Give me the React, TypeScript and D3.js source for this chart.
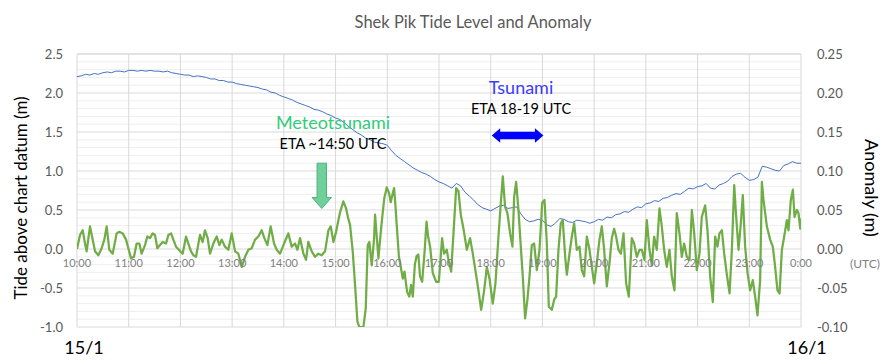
import React from 'react';
import * as d3 from 'd3';

// ---------- data ----------
const hourLabels = ['10:00','11:00','12:00','13:00','14:00','15:00','16:00','17:00','18:00','19:00','20:00','21:00','22:00','23:00','0:00'];
const leftTicks = [-1.0, -0.5, 0.0, 0.5, 1.0, 1.5, 2.0, 2.5];
const rightTicks = [-0.10, -0.05, 0.00, 0.05, 0.10, 0.15, 0.20, 0.25];

// Tide level (m above chart datum), every 5 minutes from 10:00 (15/1) to 0:00 (16/1)
const tideStepMinutes = 5;
const tideLevel = [
  2.21,2.22,2.24,2.23,2.25,2.24,2.26,2.27,2.26,2.28,2.28,2.27,
  2.29,2.29,2.28,2.29,2.28,2.29,2.28,2.28,2.27,2.28,2.26,2.25,
  2.24,2.23,2.23,2.21,2.22,2.21,2.20,2.18,2.18,2.16,2.16,2.14,
  2.14,2.12,2.11,2.10,2.09,2.08,2.07,2.05,2.04,2.01,2.00,1.97,
  1.95,1.93,1.91,1.88,1.86,1.84,1.82,1.79,1.78,1.76,1.73,1.71,
  1.68,1.66,1.62,1.57,1.53,1.49,1.46,1.42,1.40,1.37,1.36,1.35,
  1.33,1.26,1.20,1.16,1.12,1.08,1.04,1.01,0.98,0.96,0.93,0.89,
  0.86,0.84,0.81,0.78,0.84,0.81,0.73,0.68,0.63,0.57,0.53,0.51,
  0.49,0.52,0.55,0.56,0.52,0.53,0.54,0.45,0.38,0.35,0.36,0.38,
  0.37,0.31,0.29,0.33,0.39,0.38,0.35,0.34,0.37,0.36,0.35,0.33,
  0.35,0.38,0.37,0.41,0.40,0.44,0.45,0.48,0.47,0.51,0.54,0.53,
  0.58,0.59,0.62,0.61,0.65,0.66,0.69,0.71,0.70,0.74,0.78,0.77,
  0.80,0.81,0.84,0.78,0.77,0.82,0.84,0.87,0.93,0.96,0.97,0.92,
  0.88,0.89,0.92,1.06,1.05,1.03,1.01,1.00,1.07,1.09,1.12,1.10,
  1.10
];

// Anomaly (m): [minutes after 10:00, value]
const anomaly10to12: [number, number][] = [
  [0,0.0],[3.5,0.018],[6.6,0.024],[9.3,0.007],[11.2,-0.003],[15.1,0.029],[17.8,0.014],[20.9,-0.003],
  [24.8,-0.008],[28.6,0.001],[31.7,0.012],[34.4,0.029],[37.5,-0.001],[41.4,-0.006],[46,0.02],[49.1,0.022],
  [53,0.02],[56.9,0.012],[60,-0.001],[62.7,-0.012],[66.1,-0.01],[69.2,0.007],[72.3,0.007],[75,-0.006],
  [78.9,0.005],[81.6,0.016],[84.7,0.014],[87.8,0.02],[90.5,0.018],[93.2,0.001],[96.3,0.005],[99.4,0.009],
  [103.3,0.007],[106,0.018],[109.1,0.02],[111.8,0.012],[114.9,0.003]
];
const anomaly12to15: [number, number][] = [
  [119.9,-0.003],[122.6,-0.006],[126.5,0.016],[129.2,0.007],[132.3,-0.003],[135,-0.008],[138.1,-0.01],
  [142.7,0.018],[145.8,0.009],[148.5,0.024],[151.6,0.014],[154.3,-0.006],[158.2,0.007],[162.1,0.016],
  [165.2,0.005],[167.9,0.012],[171.7,0.003],[175.6,-0.001],[179.5,0.02],[183.4,-0.003],[187.2,-0.006],
  [191.1,-0.023],[195,-0.01],[198.8,-0.001],[202.7,0.001],[206.6,0.012],[210.4,0.016],[214.3,0.024],
  [217.4,0.014],[220.9,0.005],[224.7,0.029],[228.6,0.007],[231.7,-0.001],[235.6,-0.006],[240.2,0.007],
  [245.2,0.02],[249.1,0.003],[253,0.007],[255.7,-0.001],[258.8,0.014],[262.7,-0.006],[265.7,-0.014],
  [268.4,0.009],[272.3,-0.003],[276.2,-0.01],[280,-0.006],[283.9,-0.008],[287.8,-0.003],[291.7,0.024],
  [294.4,0.029],[297.5,0.009],[300.6,0.022]
];
const anomaly15to17: [number, number][] = [
  [303.3,0.037],[305.2,0.047],[309,0.061],[312.2,0.052],[314.5,0.04],[316.8,0.031],[319.9,-0.003],
  [322.6,-0.046],[325.3,-0.093],[327.6,-0.1],[332.3,-0.1],[335,-0.076],[337.3,0.005],[339.2,0.009],
  [342,-0.021],[344.7,0.014],[345.8,0.044],[347.5,0.02],[349.7,-0.012],[353.6,0.035],[356.5,0.065],
  [359.4,0.079],[362,0.072],[364,0.06],[366,0.07],[367.9,0.078],[369.5,0.055],[371,0.03],[373.5,-0.01],
  [376,-0.025],[378,-0.038],[380,-0.029],[383,-0.055],[385.5,-0.061],[387.6,-0.046],[389.6,-0.061],
  [392,-0.02],[394,-0.009],[396,-0.007],[398,-0.035],[400.5,-0.042],[403.5,0.0],[405.5,0.035],[407.5,0.015]
];
const anomaly17to20: [number, number][] = [
  [409.7,0.003],[412.8,-0.031],[416.7,-0.042],[419.8,-0.042],[423.6,0.014],[425.9,-0.006],[429,-0.001],
  [431,-0.014],[434.1,-0.029],[436.8,0.02],[439.9,0.078],[442.6,0.074],[445.3,0.044],[448.4,0.026],
  [452.3,-0.001],[456.1,0.014],[459.2,-0.006],[461.9,-0.025],[465.8,-0.053],[468.9,-0.078],[472.4,-0.053],
  [475.5,-0.023],[478.6,-0.038],[482.4,-0.07],[485.5,-0.044],[489,0.016],[491.7,0.059],[494,0.093],
  [496.7,0.054],[499.4,0.046],[502.5,0.02],[505.2,0.003],[507.2,0.067],[509.5,0.086],[512.2,0.05],
  [514.9,0.003],[517.2,-0.035],[519.9,-0.089],[522.6,-0.065],[525,-0.035],[527.7,0.005],[530.4,0.007],
  [533.5,-0.027],[536.6,-0.001],[539.7,0.059],[542.4,0.063],[545.1,0.007],[547.4,-0.074],[550.9,-0.078],
  [553.6,-0.065],[555.9,-0.061],[558.6,-0.001],[561.3,0.033],[563.6,0.037],[566.4,-0.01],[568.3,-0.033],
  [571.4,-0.006],[574.1,0.016],[576.8,0.033],[579.9,-0.001],[583,0.003],[585.7,-0.027],[588.4,-0.035],
  [591.5,0.016],[594.6,-0.001],[597.3,-0.023]
];
const anomaly20to24: [number, number][] = [
  [600,-0.044],[603.1,-0.018],[606.2,0.012],[608.9,0.029],[611.6,-0.001],[614.7,-0.048],[617.8,-0.018],
  [620.5,0.014],[623.2,0.026],[625.5,0.016],[628.2,-0.001],[631,-0.006],[634.1,0.02],[637.1,-0.044],
  [640.2,-0.061],[643.7,0.014],[646.4,0.007],[649.5,-0.01],[652.6,-0.001],[655.3,-0.001],[658.4,-0.014],
  [661.1,0.037],[664.2,-0.001],[666.9,-0.021],[669.6,0.016],[672.7,-0.001],[675.8,0.052],[678.5,0.029],
  [681.2,-0.001],[684.3,-0.023],[687.4,-0.001],[690.1,-0.035],[693.2,-0.053],[695.9,0.046],[699,0.02],
  [701.7,-0.01],[704.4,0.007],[707.5,-0.01],[710.6,-0.014],[713.4,0.05],[716.1,0.02],[719.1,-0.027],
  [722.2,-0.006],[724.9,0.041],[728.8,0.056],[731.5,0.024],[734.6,-0.035],[737.7,-0.068],[740.4,0.016],
  [743.1,0.003],[745.4,0.02],[748.2,0.024],[750.9,-0.006],[754,-0.033],[757.1,-0.057],[759.8,-0.001],
  [762.5,0.082],[764.8,0.041],[767.5,-0.001],[770.2,0.033],[772.5,0.069],[775.2,0.003],[778,-0.031],
  [781,-0.053],[784.1,-0.04],[786.8,-0.061],[789.5,-0.085],[792.6,-0.04],[794.6,0.086],[796.5,0.063],
  [800.4,0.029],[804.2,0.012],[807.3,0.003],[810,-0.023],[812.7,-0.053],[815.1,-0.057],[817.8,-0.001],
  [820.5,0.016],[823.6,0.037],[825.5,0.024],[828.2,0.063],[830.6,0.076],[832.5,0.041],[835.2,0.05],
  [837.1,0.046],[839.1,0.026],[840,0.039]
];

// annotation times (minutes after 10:00)
const meteoArrowMinute = 284;
const tsunamiEtaStart = 480;
const tsunamiEtaEnd = 540;

// ---------- layout ----------
const W = 890, H = 364;
const plot = { left: 77, right: 801, top: 54, bottom: 327 };
const FONT = 'Lato, "Open Sans", sans-serif';

export default function App() {
  const x = d3.scaleLinear().domain([0, 840]).range([plot.left, plot.right]);
  const yL = d3.scaleLinear().domain([-1, 2.5]).range([plot.bottom, plot.top]);
  const yR = d3.scaleLinear().domain([-0.1, 0.25]).range([plot.bottom, plot.top]);

  const anomaly = [...anomaly10to12, ...anomaly12to15, ...anomaly15to17, ...anomaly17to20, ...anomaly20to24];

  const tideLine = d3.line<number>()
    .x((_, i) => x(i * tideStepMinutes))
    .y(d => yL(d))(tideLevel) || '';
  const anomLine = d3.line<[number, number]>()
    .x(d => x(d[0]))
    .y(d => yR(Math.max(-0.1, d[1])))(anomaly) || '';

  const minorVals = d3.range(-10, 26).map(v => v / 10);

  // green down arrow
  const gcx = x(meteoArrowMinute);
  const gTop = yL(1.10), gHead = yL(0.66), gTip = yL(0.52);
  const gArrow = [
    [gcx - 4.7, gTop], [gcx + 4.7, gTop], [gcx + 4.7, gHead], [gcx + 9.7, gHead],
    [gcx, gTip], [gcx - 9.7, gHead], [gcx - 4.7, gHead]
  ].map(p => p.join(',')).join(' ');

  // blue double arrow
  const bx1 = x(tsunamiEtaStart) + 1, bx2 = x(tsunamiEtaEnd) + 1, bcy = yL(1.455);
  const sh = 3.8, hh = 7.2, hl = 8.5;
  const bArrow = [
    [bx1, bcy], [bx1 + hl, bcy - hh], [bx1 + hl, bcy - sh], [bx2 - hl, bcy - sh], [bx2 - hl, bcy - hh],
    [bx2, bcy], [bx2 - hl, bcy + hh], [bx2 - hl, bcy + sh], [bx1 + hl, bcy + sh], [bx1 + hl, bcy + hh]
  ].map(p => p.join(',')).join(' ');

  return (
    <svg width={W} height={H} style={{ position: 'absolute', left: 0, top: 0, background: '#fff' }}
      fontFamily={FONT}>
      <defs>
        <clipPath id="plotClip">
          <rect x={plot.left} y={plot.top - 2} width={plot.right - plot.left} height={plot.bottom - plot.top + 2} />
        </clipPath>
      </defs>
      <rect x={0} y={0} width={W} height={H} fill="#fff" />

      {/* minor horizontal gridlines */}
      {minorVals.map(v => (
        <line key={'mn' + v} x1={plot.left} x2={plot.right} y1={yL(v)} y2={yL(v)}
          stroke={Math.abs(v * 2 - Math.round(v * 2)) < 1e-6 ? '#d9d9d9' : '#efefef'} strokeWidth={1} />
      ))}
      {/* top major gridline */}
      <line x1={plot.left} x2={plot.right} y1={yL(2.5)} y2={yL(2.5)} stroke="#d9d9d9" />
      {/* vertical gridlines */}
      {hourLabels.map((_, i) => (
        <line key={'v' + i} x1={x(i * 60)} x2={x(i * 60)} y1={plot.top} y2={plot.bottom} stroke="#d9d9d9" />
      ))}

      {/* series */}
      <g clipPath="url(#plotClip)">
        <path d={tideLine} fill="none" stroke="#4472C4" strokeWidth={1} />
        <path d={anomLine} fill="none" stroke="#70AD47" strokeWidth={2.25} strokeLinejoin="round" />
      </g>

      {/* left ticks */}
      {leftTicks.map(v => (
        <text key={'l' + v} x={63} y={yL(v)} dy="0.35em" textAnchor="end" fontSize={13} fill="#595959">
          {v.toFixed(1)}
        </text>
      ))}
      {/* right ticks */}
      {rightTicks.map(v => (
        <text key={'r' + v} x={817} y={yR(v)} dy="0.35em" textAnchor="start" fontSize={13} fill="#595959">
          {v.toFixed(2)}
        </text>
      ))}
      {/* x labels */}
      {hourLabels.map((h, i) => (
        <text key={'x' + i} x={x(i * 60)} y={yL(0) + 14} dy="0.35em" textAnchor="middle" fontSize={11} fill="#7f7f7f">
          {h}
        </text>
      ))}
      <text x={865} y={yL(0) + 15} dy="0.35em" textAnchor="middle" fontSize={12} fill="#7f7f7f">(UTC)</text>

      {/* title */}
      <text x={473} y={22} dy="0.35em" textAnchor="middle" fontSize={16.5} fill="#595959">Shek Pik Tide Level and Anomaly</text>

      {/* axis titles */}
      <text transform={`translate(21,198) rotate(-90)`} textAnchor="middle" dy="0.35em" fontSize={17} fill="#000">
        Tide above chart datum (m)
      </text>
      <text transform={`translate(871,188) rotate(90)`} textAnchor="middle" dy="0.35em" fontSize={18} fill="#000">
        Anomaly (m)
      </text>

      {/* date labels */}
      <text x={84} y={348} dy="0.35em" textAnchor="middle" fontSize={18} fill="#000">15/1</text>
      <text x={807} y={348} dy="0.35em" textAnchor="middle" fontSize={18} fill="#000">16/1</text>

      {/* meteotsunami annotation */}
      <text x={333} y={123} dy="0.35em" textAnchor="middle" fontSize={18} fill="#33cc7a">Meteotsunami</text>
      <text x={333} y={144} dy="0.35em" textAnchor="middle" fontSize={14.5} fill="#000">ETA ~14:50 UTC</text>
      <polygon points={gArrow} fill="#6fd09a" stroke="#4fb07f" strokeWidth={1} />

      {/* tsunami annotation */}
      <text x={521} y={88} dy="0.35em" textAnchor="middle" fontSize={18} fill="#3b3bff">Tsunami</text>
      <text x={521} y={108.5} dy="0.35em" textAnchor="middle" fontSize={14.5} fill="#000">ETA 18-19 UTC</text>
      <polygon points={bArrow} fill="#0000ff" />
    </svg>
  );
}
